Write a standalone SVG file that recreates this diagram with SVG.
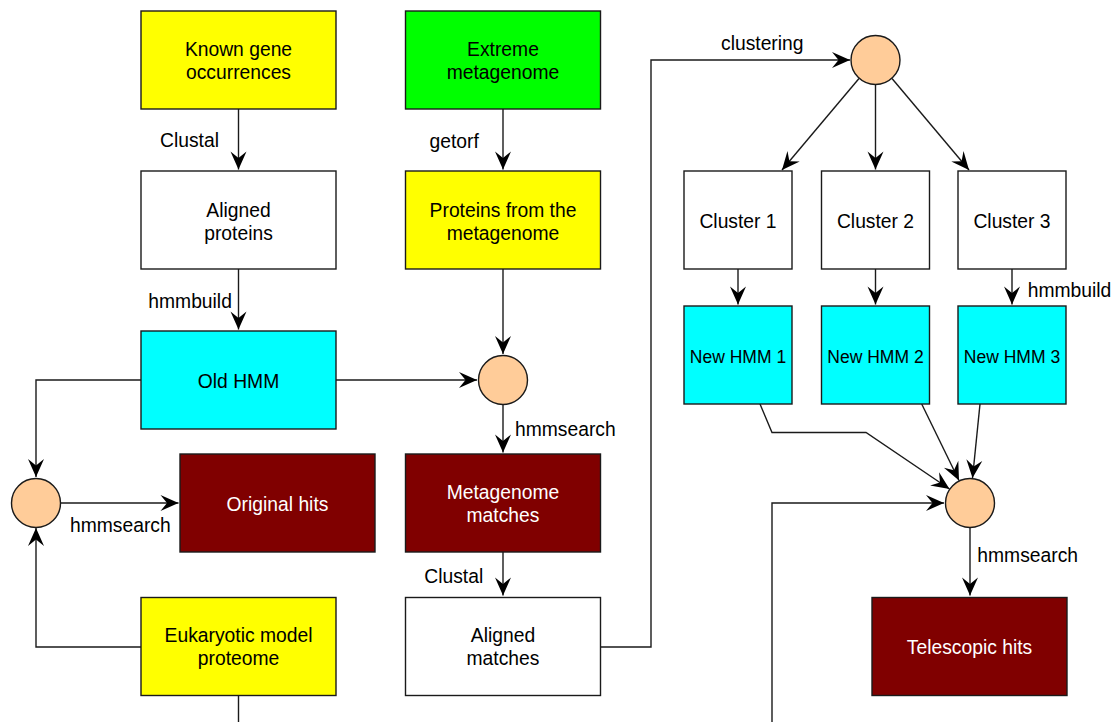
<svg xmlns="http://www.w3.org/2000/svg" width="1115" height="722" viewBox="0 0 1115 722">
<style>
.box{stroke:#1a1a1a;stroke-width:1.4}
.y{fill:#FFFF00}.g{fill:#00FF00}.w{fill:#FFFFFF}.c{fill:#00FFFF}.r{fill:#800000}
.circ{fill:#FFCC99;stroke:#1a1a1a;stroke-width:1.4}
text{font-family:"Liberation Sans",Arial,sans-serif;font-size:19.3px;fill:#000}
.t{text-anchor:middle}
.wt{fill:#FFFFFF}
.sm{font-size:17.5px}
.edge{fill:none;stroke:#1a1a1a;stroke-width:1.4}
</style>
<defs>
<marker id="arr" markerUnits="userSpaceOnUse" markerWidth="20" markerHeight="18" viewBox="-19 -9 20 18" refX="0" refY="0" orient="auto">
<path d="M0,0 L-18,-8 L-11.5,0 L-18,8 Z" fill="#000"/>
</marker>
</defs>
<rect width="1115" height="722" fill="#FFFFFF"/>

<g id="connectors">
<path class="edge" d="M238.5,109 V169.5" marker-end="url(#arr)"/>
<path class="edge" d="M238.5,269 V329.5" marker-end="url(#arr)"/>
<path class="edge" d="M503,109 V169.5" marker-end="url(#arr)"/>
<path class="edge" d="M503,269 V354" marker-end="url(#arr)"/>
<path class="edge" d="M336,380 H477" marker-end="url(#arr)"/>
<path class="edge" d="M141,380 H36 V477" marker-end="url(#arr)"/>
<path class="edge" d="M141,647 H36 V528" marker-end="url(#arr)"/>
<path class="edge" d="M60.5,503 H178.5" marker-end="url(#arr)"/>
<path class="edge" d="M503,404.5 V452.5" marker-end="url(#arr)"/>
<path class="edge" d="M503,552 V595.5" marker-end="url(#arr)"/>
<path class="edge" d="M601,647 H651 V60 H850" marker-end="url(#arr)"/>
<path class="edge" d="M859,78.5 L782,170" marker-end="url(#arr)"/>
<path class="edge" d="M875.5,84.5 V169.5" marker-end="url(#arr)"/>
<path class="edge" d="M892,78.5 L969,170" marker-end="url(#arr)"/>
<path class="edge" d="M738,269 V304.5" marker-end="url(#arr)"/>
<path class="edge" d="M875.5,269 V304.5" marker-end="url(#arr)"/>
<path class="edge" d="M1012,269 V304.5" marker-end="url(#arr)"/>
<path class="edge" d="M760,404 L772,432.5 H866 L949.5,489" marker-end="url(#arr)"/>
<path class="edge" d="M921.7,404 L959,480.5" marker-end="url(#arr)"/>
<path class="edge" d="M980,404 L972.5,478" marker-end="url(#arr)"/>
<path class="edge" d="M970,527.5 V595.5" marker-end="url(#arr)"/>
<path class="edge" d="M238.5,695.5 V740 H772 V503 H944" marker-end="url(#arr)"/>
<text x="160" y="147">Clustal</text>
<text x="429.5" y="147.5">getorf</text>
<text x="148.3" y="308">hmmbuild</text>
<text x="515" y="435.5">hmmsearch</text>
<text x="70" y="531.5">hmmsearch</text>
<text x="424.3" y="582.5">Clustal</text>
<text x="721" y="49.5">clustering</text>
<text x="1027.7" y="296.5">hmmbuild</text>
<text x="977.3" y="561.5">hmmsearch</text>
</g>

<g id="known"><rect class="box y" x="141" y="11" width="195" height="98"/><text class="t" x="238.5" y="55.8">Known gene</text><text class="t" x="238.5" y="79">occurrences</text></g>
<g id="extreme"><rect class="box g" x="405.5" y="11" width="195" height="98"/><text class="t" x="503" y="55.8">Extreme</text><text class="t" x="503" y="79">metagenome</text></g>
<g id="aligned-proteins"><rect class="box w" x="141" y="171" width="195" height="98"/><text class="t" x="238.5" y="216.5">Aligned</text><text class="t" x="238.5" y="239.5">proteins</text></g>
<g id="proteins-meta"><rect class="box y" x="405.5" y="171" width="195" height="98"/><text class="t" x="503" y="216.5">Proteins from the</text><text class="t" x="503" y="239.5">metagenome</text></g>
<g id="old-hmm"><rect class="box c" x="141" y="331" width="195" height="98"/><text class="t" x="238.5" y="388">Old HMM</text></g>
<g id="circle-mid"><circle class="circ" cx="503" cy="380" r="24.5"/></g>
<g id="circle-left"><circle class="circ" cx="36" cy="503" r="24.5"/></g>
<g id="original-hits"><rect class="box r" x="180" y="454" width="195" height="98"/><text class="t wt" x="277.5" y="511">Original hits</text></g>
<g id="meta-matches"><rect class="box r" x="405.5" y="454" width="195" height="98"/><text class="t wt" x="503" y="498.5">Metagenome</text><text class="t wt" x="503" y="521.7">matches</text></g>
<g id="eukaryotic"><rect class="box y" x="141" y="597.5" width="195" height="98"/><text class="t" x="238.5" y="641.8">Eukaryotic model</text><text class="t" x="238.5" y="665">proteome</text></g>
<g id="aligned-matches"><rect class="box w" x="405.5" y="597.5" width="195" height="98"/><text class="t" x="503" y="641.8">Aligned</text><text class="t" x="503" y="665">matches</text></g>
<g id="circle-top"><circle class="circ" cx="875.5" cy="60" r="24.5"/></g>
<g id="cluster1"><rect class="box w" x="684" y="171" width="108" height="98"/><text class="t" x="738" y="228.3">Cluster 1</text></g>
<g id="cluster2"><rect class="box w" x="821.5" y="171" width="108" height="98"/><text class="t" x="875.5" y="228.3">Cluster 2</text></g>
<g id="cluster3"><rect class="box w" x="958" y="171" width="108" height="98"/><text class="t" x="1012" y="228.3">Cluster 3</text></g>
<g id="newhmm1"><rect class="box c" x="684" y="306" width="108" height="98"/><text class="t sm" x="738" y="363">New HMM 1</text></g>
<g id="newhmm2"><rect class="box c" x="821.5" y="306" width="108" height="98"/><text class="t sm" x="875.5" y="363">New HMM 2</text></g>
<g id="newhmm3"><rect class="box c" x="958" y="306" width="108" height="98"/><text class="t sm" x="1012" y="363">New HMM 3</text></g>
<g id="circle-right"><circle class="circ" cx="970" cy="503" r="24.5"/></g>
<g id="telescopic"><rect class="box r" x="872" y="597.5" width="195" height="98"/><text class="t wt" x="969.5" y="653.5">Telescopic hits</text></g>
</svg>
